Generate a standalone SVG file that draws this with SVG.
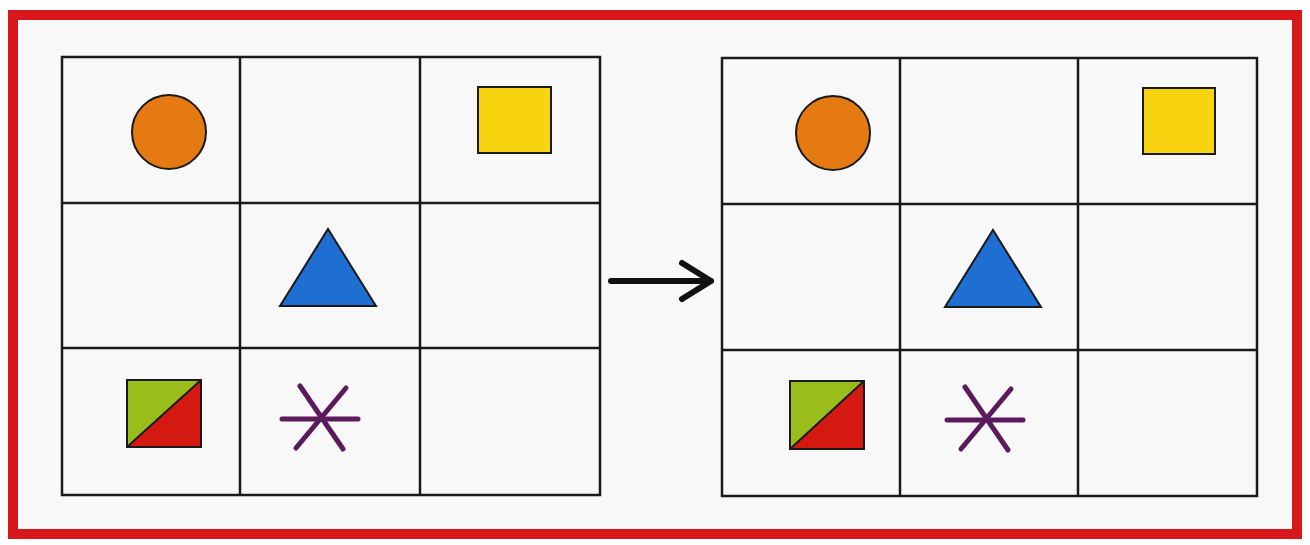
<svg xmlns="http://www.w3.org/2000/svg" width="1310" height="545" viewBox="0 0 1310 545">
<defs>
<style>
.grid{fill:none;stroke:#1a1a1a;stroke-width:2.5}
.sh{stroke:#1a1a1a;stroke-width:2}
.ast{stroke:#5a1a5c;stroke-width:5;stroke-linecap:round}
</style>
</defs>
<rect x="0" y="0" width="1310" height="545" fill="#ffffff"/>
<rect x="13" y="15" width="1284" height="519" fill="#f8f8f8" stroke="#d8171a" stroke-width="10"/>
<g id="grid-left">
<rect class="grid" x="62" y="57" width="538" height="438"/>
<line class="grid" x1="240" y1="57" x2="240" y2="495"/>
<line class="grid" x1="420" y1="57" x2="420" y2="495"/>
<line class="grid" x1="62" y1="203" x2="600" y2="203"/>
<line class="grid" x1="62" y1="348" x2="600" y2="348"/>
</g>
<g id="left-circle"><circle class="sh" cx="169" cy="132" r="37" fill="#e67a12"/></g>
<g id="left-square"><rect class="sh" x="478" y="87" width="73" height="66" fill="#f8d410"/></g>
<g id="left-triangle"><polygon class="sh" points="328,229 376,306 280,306" fill="#1f6fd2"/></g>
<g id="left-split">
<polygon points="127,380 201,380 127,447" fill="#9bbd1c"/>
<polygon points="201,380 201,447 127,447" fill="#d41a10"/>
<rect class="sh" x="127" y="380" width="74" height="67" fill="none"/>
<line class="sh" x1="127" y1="447" x2="201" y2="380"/>
</g>
<g id="left-asterisk">
<line class="ast" x1="282" y1="419" x2="358" y2="419"/>
<line class="ast" x1="300" y1="386" x2="343" y2="449"/>
<line class="ast" x1="346" y1="388" x2="296" y2="448"/>
</g>
<g id="connectors">
<path d="M611,281 H711 M682,263 L711,281 L682,299" fill="none" stroke="#111" stroke-width="6" stroke-linecap="round" stroke-linejoin="round"/>
</g>
<g id="grid-right">
<rect class="grid" x="722" y="58" width="535" height="438"/>
<line class="grid" x1="900" y1="58" x2="900" y2="496"/>
<line class="grid" x1="1078" y1="58" x2="1078" y2="496"/>
<line class="grid" x1="722" y1="204" x2="1257" y2="204"/>
<line class="grid" x1="722" y1="350" x2="1257" y2="350"/>
</g>
<g id="right-circle"><circle class="sh" cx="833" cy="133" r="37" fill="#e67a12"/></g>
<g id="right-square"><rect class="sh" x="1143" y="88" width="72" height="66" fill="#f8d410"/></g>
<g id="right-triangle"><polygon class="sh" points="993,230 1041,307 945,307" fill="#1f6fd2"/></g>
<g id="right-split">
<polygon points="790,381 864,381 790,449" fill="#9bbd1c"/>
<polygon points="864,381 864,449 790,449" fill="#d41a10"/>
<rect class="sh" x="790" y="381" width="74" height="68" fill="none"/>
<line class="sh" x1="790" y1="449" x2="864" y2="381"/>
</g>
<g id="right-asterisk">
<line class="ast" x1="947" y1="420" x2="1023" y2="420"/>
<line class="ast" x1="965" y1="387" x2="1008" y2="450"/>
<line class="ast" x1="1011" y1="389" x2="961" y2="449"/>
</g>
</svg>
